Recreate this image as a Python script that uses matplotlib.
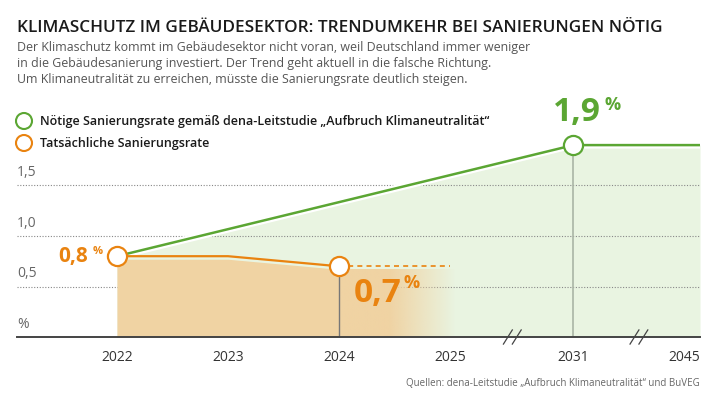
import matplotlib.pyplot as plt
import numpy as np
from matplotlib.patches import Ellipse

# data
tick_years = [2022, 2023, 2024, 2025, 2031, 2045]
tick_slots = [0, 1, 2, 3, 4.11, 5.25]  # broken axis: position of each tick

needed_years = [2022, 2031, 2045]
needed_rate = [0.8, 1.9, 1.9]

actual_years = [2022, 2023, 2024]
actual_rate = [0.8, 0.8, 0.7]
trend_years = [2024, 2025]
trend_rate = [0.7, 0.7]

y_ticks = [0.5, 1.0, 1.5]
y_labels = ["0,5", "1,0", "1,5"]

GREEN = "#5ba633"
GREEN_FILL = "#e9f4e1"
ORANGE = "#e98310"
ORANGE_FILL = "#f0d3a3"


def pos(years):
    return np.interp(years, tick_years, tick_slots)


fig = plt.figure(figsize=(7.2, 4.05), dpi=100)
plt.rcParams['font.family'] = ['Open Sans', 'DejaVu Sans']

ax = fig.add_axes([17 / 720, 68 / 405, 683 / 720, 202 / 405])
ax.set_xlim(-0.9, 5.25)
ax.set_ylim(0, 2.0)
ax.axis("off")

# green area + line
gx = pos(needed_years)
ax.fill_between(gx, 0, needed_rate, color=GREEN_FILL, lw=0, zorder=1)
ax.plot(gx, needed_rate, color="white", lw=5, zorder=4, solid_capstyle="butt")
ax.plot(gx, needed_rate, color=GREEN, lw=1.8, zorder=5)

# gridlines
for yv, lab in zip(y_ticks, y_labels):
    ax.plot([-0.9, 5.25], [yv, yv], color="#888888", lw=0.8, ls=(0, (1, 1.5)), zorder=2)
    ax.text(-0.9, yv + 0.05, lab, fontsize=10, color="#666666", ha="left", va="bottom")
ax.text(-0.9, 0.05, "%", fontsize=10, color="#666666", ha="left", va="bottom")

# orange area
ox = pos(actual_years)
fill_top = np.array(actual_rate) - 0.03
ax.fill_between(ox, 0, fill_top, color=ORANGE_FILL, lw=0, zorder=3)

# fading part after 2024
x0, x1 = pos(2024), pos(2025) + 0.05
ytop = trend_rate[0] - 0.03
w = 200
grad = np.ones((2, w, 4))
rgb = np.array([int(ORANGE_FILL[i:i + 2], 16) / 255 for i in (1, 3, 5)])
grad[:, :, :3] = rgb
xs = np.linspace(x0, x1, w)
alpha = np.clip((x1 - xs) / (x1 - 2.45), 0, 1)
alpha = np.where(xs < 2.45, 1.0, alpha)
grad[:, :, 3] = alpha
ax.imshow(grad, extent=[x0, x1, 0, ytop], aspect="auto", zorder=3, interpolation="bilinear")

ax.plot(ox, actual_rate, color=ORANGE, lw=1.6, zorder=5)
ax.plot(pos(trend_years), trend_rate, color=ORANGE, lw=1.2, ls=(0, (3, 2.5)), zorder=5)

# vertical markers
ax.plot([pos(2024)] * 2, [0, 0.7], color="#777777", lw=1, zorder=4)
ax.plot([pos(2031)] * 2, [0, 1.9], color="#aab5a5", lw=1.2, zorder=4)

# points
ax.scatter(pos([2022, 2024]), [0.8, 0.7], s=190, facecolor="white", edgecolor=ORANGE,
           linewidth=1.6, zorder=6, clip_on=False)
ax.scatter(pos([2031]), [1.9], s=190, facecolor="white", edgecolor=GREEN,
           linewidth=1.6, zorder=6, clip_on=False)

# value labels
ax.text(pos(2022) - 0.26, 0.8, "0,8", fontsize=15, fontweight="bold", color=ORANGE,
        ha="right", va="center", zorder=7)
ax.text(pos(2022) - 0.22, 0.85, "%", fontsize=8, fontweight="bold", color=ORANGE,
        ha="left", va="center", zorder=7)
ax.text(pos(2024) + 0.13, 0.43, "0,7", fontsize=24, fontweight="bold", color=ORANGE,
        ha="left", va="center", zorder=7)
ax.text(pos(2024) + 0.58, 0.53, "%", fontsize=13, fontweight="bold", color=ORANGE,
        ha="left", va="center", zorder=7)
ax.text(pos(2031) + 0.03, 2.22, "1,9", fontsize=24, fontweight="bold", color=GREEN,
        ha="center", va="center", zorder=7, clip_on=False)
ax.text(pos(2031) + 0.28, 2.3, "%", fontsize=13, fontweight="bold", color=GREEN,
        ha="left", va="center", zorder=7, clip_on=False)

# x axis
ax.plot([-0.9, 5.25], [0, 0], color="#444444", lw=1.4, zorder=6, clip_on=False)
for brk in [3.56, 4.7]:
    for dx in (-0.04, 0.04):
        ax.plot([brk + dx - 0.04, brk + dx + 0.04], [-0.07, 0.07], color="#444444",
                lw=0.9, zorder=7, clip_on=False)
for slot, yr in zip(tick_slots, tick_years):
    ha = "right" if yr == 2045 else "center"
    ax.text(slot, -0.2, str(yr), fontsize=10, color="#333333", ha=ha, va="center",
            clip_on=False)

# title, subtitle, legend, source
fig.text(17 / 720, 1 - 28 / 405, "KLIMASCHUTZ IM GEBÄUDESEKTOR: TRENDUMKEHR BEI SANIERUNGEN NÖTIG",
         fontsize=12.3, fontweight="semibold", color="#1a1a1a", va="center", ha="left")
sub = ("Der Klimaschutz kommt im Gebäudesektor nicht voran, weil Deutschland immer weniger\n"
       "in die Gebäudesanierung investiert. Der Trend geht aktuell in die falsche Richtung.\n"
       "Um Klimaneutralität zu erreichen, müsste die Sanierungsrate deutlich steigen.")
fig.text(17 / 720, 1 - 41 / 405, sub, fontsize=8.9, color="#555555", va="top", ha="left",
         linespacing=1.3)

for yy, col, txt in [(121, GREEN, "Nötige Sanierungsrate gemäß dena-Leitstudie „Aufbruch Klimaneutralität“"),
                     (143, ORANGE, "Tatsächliche Sanierungsrate")]:
    fig.add_artist(Ellipse((24 / 720, 1 - yy / 405), 16 / 720, 16 / 405,
                           transform=fig.transFigure, facecolor="white", edgecolor=col, lw=1.5))
    fig.text(40 / 720, 1 - yy / 405, txt, fontsize=9, fontweight="semibold", color="#1a1a1a",
             va="center", ha="left")

fig.text(700 / 720, 1 - 383 / 405, "Quellen: dena-Leitstudie „Aufbruch Klimaneutralität“ und BuVEG",
         fontsize=7, color="#666666", ha="right", va="center")

fig.savefig("out.png", dpi=100)
